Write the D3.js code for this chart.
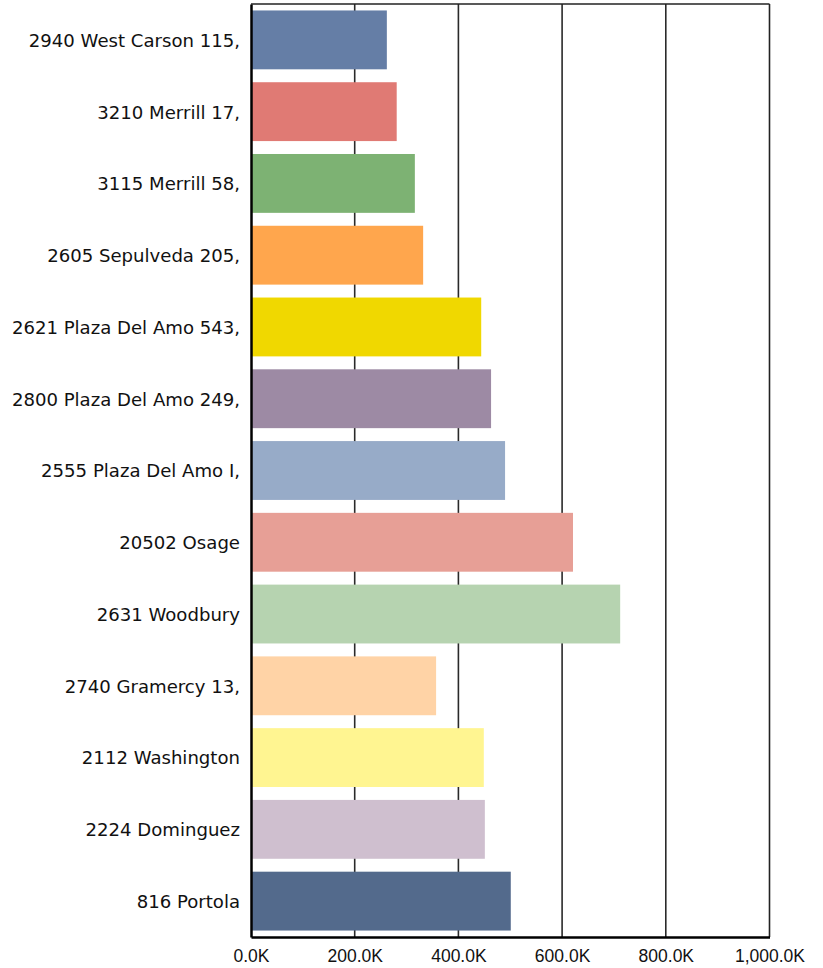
<!DOCTYPE html>
<html><head><meta charset="utf-8">
<script src="https://cdn.jsdelivr.net/npm/d3@7"></script>
<style>body{margin:0;background:#fff}</style>
</head><body>
<svg id="c" width="823" height="968"></svg>
<script>
const categories = ["2940 West Carson 115,","3210 Merrill 17,","3115 Merrill 58,","2605 Sepulveda 205,","2621 Plaza Del Amo 543,","2800 Plaza Del Amo 249,","2555 Plaza Del Amo I,","20502 Osage","2631 Woodbury","2740 Gramercy 13,","2112 Washington","2224 Dominguez","816 Portola"];
const values = [262000,281000,316000,332000,444000,463000,490000,621000,712000,357000,449000,451000,501000];
const colors = ["#657ea6","#e07a74","#7db273","#ffa64d","#f0d800","#9d8aa4","#97abc8","#e79f96","#b6d3b0","#ffd3a6","#fff591","#cfbfcf","#536a8c"];
const tickValues = [0,200000,400000,600000,800000,1000000];

const svg = d3.select("#c");
const L=251, R=769.5, T=4, B=937;
const x = d3.scaleLinear().domain([0,1000000]).range([L,R]);
const y = d3.scaleBand().domain(categories).range([T,B]).paddingInner(0.18).paddingOuter(0.09);

// gridlines
svg.append("g").selectAll("line").data(tickValues.slice(1,-1)).join("line")
  .attr("x1",d=>x(d)).attr("x2",d=>x(d)).attr("y1",T).attr("y2",B)
  .attr("stroke","#2a2a2a").attr("stroke-width",1.6);

// bars
svg.append("g").selectAll("rect").data(values).join("rect")
  .attr("x",x(0)).attr("y",(d,i)=>y(categories[i]))
  .attr("width",d=>x(d)-x(0)).attr("height",y.bandwidth())
  .attr("fill",(d,i)=>colors[i]);

// frame
svg.append("line").attr("x1",L).attr("x2",R).attr("y1",T).attr("y2",T).attr("stroke","#222").attr("stroke-width",1.6);
svg.append("line").attr("x1",R).attr("x2",R).attr("y1",T).attr("y2",B).attr("stroke","#222").attr("stroke-width",1.6);

// x axis
const xa = svg.append("g").attr("transform",`translate(0,${B})`)
  .call(d3.axisBottom(x).tickValues(tickValues).tickSize(0).tickPadding(13)
    .tickFormat(d=>d3.format(",.1f")(d/1000)+"K"));
xa.select(".domain").attr("stroke","#000").attr("stroke-width",2.5);
xa.selectAll("text").attr("font-family","'Liberation Sans', Arial, sans-serif").attr("font-size",17.5).attr("fill","#111");

// y axis
const ya = svg.append("g").attr("transform",`translate(${L},0)`)
  .call(d3.axisLeft(y).tickSize(0).tickPadding(11));
ya.select(".domain").attr("stroke","#000").attr("stroke-width",2.5);
ya.selectAll("text").attr("font-family","'DejaVu Sans', Verdana, sans-serif").attr("font-size",18.1).attr("fill","#111").attr("dy","0.38em");
</script>
</body></html>
